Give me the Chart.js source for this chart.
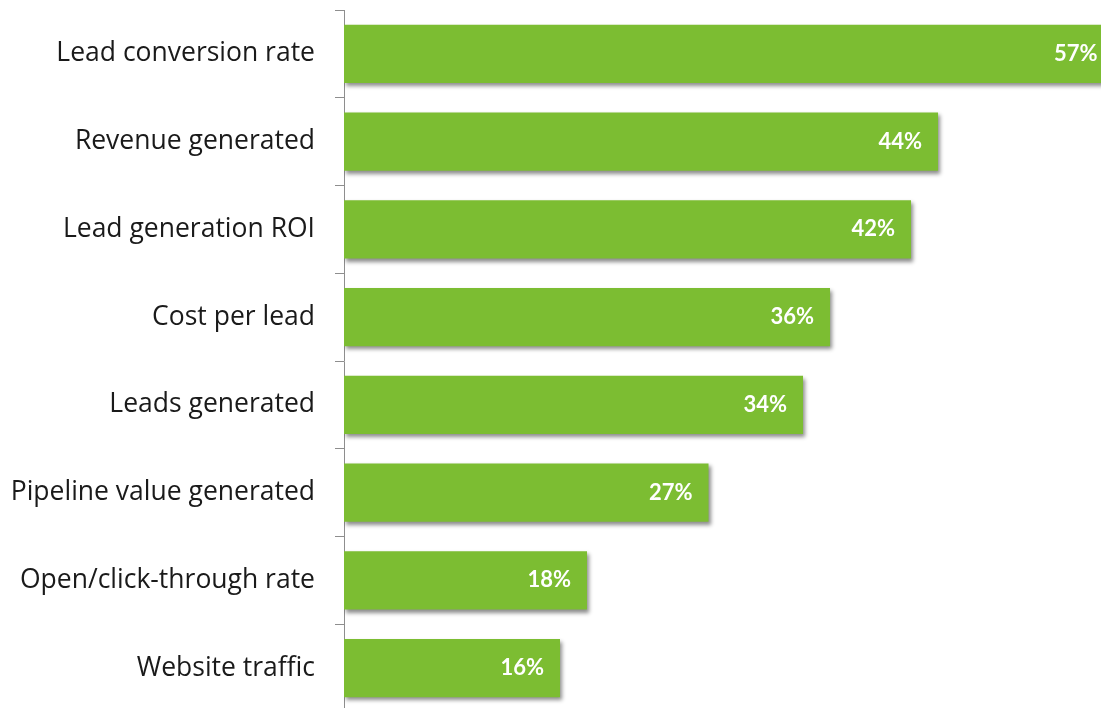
<!DOCTYPE html>
<html>
<head>
<meta charset="utf-8">
<script src="https://cdn.jsdelivr.net/npm/chart.js@4"></script>
<style>
  html, body { margin: 0; padding: 0; background: #fff; overflow: hidden; }
  canvas { display: block; }
</style>
</head>
<body>
<canvas id="bars" width="1101" height="712"></canvas>
<script>
const metrics = [
  'Lead conversion rate',
  'Revenue generated',
  'Lead generation ROI',
  'Cost per lead',
  'Leads generated',
  'Pipeline value generated',
  'Open/click-through rate',
  'Website traffic'
];
const shares = [57, 44, 42, 36, 34, 27, 18, 16];

const barGreen = '#7cbd32';
const axisGrey = '#8e8e8e';

// soft grey drop shadow under each bar
const barShadow = {
  id: 'barShadow',
  beforeDatasetsDraw(chart) {
    const ctx = chart.ctx;
    ctx.save();
    ctx.shadowColor = 'rgba(0, 0, 0, 0.45)';
    ctx.shadowBlur = 4;
    ctx.shadowOffsetX = 2;
    ctx.shadowOffsetY = 3;
  },
  afterDatasetsDraw(chart) {
    chart.ctx.restore();
  }
};

// white percentage text near the end of each bar
const valueLabels = {
  id: 'valueLabels',
  afterDatasetsDraw(chart) {
    const ctx = chart.ctx;
    const meta = chart.getDatasetMeta(0);
    ctx.save();
    ctx.font = 'bold 22px Lato, sans-serif';
    ctx.fillStyle = '#ffffff';
    ctx.textAlign = 'right';
    ctx.textBaseline = 'middle';
    meta.data.forEach((bar, i) => {
      ctx.fillText(shares[i] + '%', bar.x - 16, bar.y);
    });
    ctx.restore();
  }
};

const ctx = document.getElementById('bars').getContext('2d');
new Chart(ctx, {
  type: 'bar',
  data: {
    labels: metrics,
    datasets: [{
      data: shares,
      backgroundColor: barGreen,
      borderWidth: 0,
      categoryPercentage: 1,
      barPercentage: 0.666
    }]
  },
  options: {
    responsive: false,
    animation: false,
    indexAxis: 'y',
    layout: { padding: { top: 10, right: 0, bottom: 0, left: 0 } },
    plugins: {
      legend: { display: false },
      tooltip: { enabled: false }
    },
    scales: {
      x: {
        display: false,
        min: 0,
        max: 56.07
      },
      y: {
        afterFit: scale => {
          scale.width = 344;
          scale.paddingTop = 0;
          scale.paddingBottom = 0;
        },
        border: { display: true, color: axisGrey, width: 1 },
        grid: {
          display: true,
          drawOnChartArea: false,
          drawTicks: true,
          tickLength: 9,
          color: axisGrey,
          offset: true
        },
        ticks: {
          color: '#1a1a1a',
          padding: 20,
          font: { family: '"Open Sans", sans-serif', size: 26.5 }
        }
      }
    }
  },
  plugins: [barShadow, valueLabels]
});
</script>
</body>
</html>
